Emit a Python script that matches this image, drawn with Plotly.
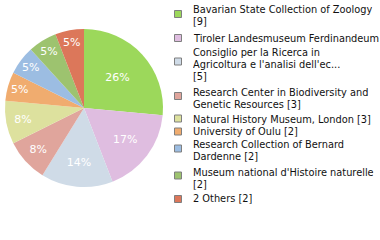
import plotly.graph_objects as go

labels = [
    "Bavarian State Collection of Zoology",
    "Tiroler Landesmuseum Ferdinandeum",
    "Consiglio per la Ricerca in Agricoltura e l'analisi dell'ec...",
    "Research Center in Biodiversity and Genetic Resources",
    "Natural History Museum, London",
    "University of Oulu",
    "Research Collection of Bernard Dardenne",
    "Museum national d'Histoire naturelle",
    "2 Others",
]
legend_lines = [
    ["Bavarian State Collection of Zoology", "[9]"],
    ["Tiroler Landesmuseum Ferdinandeum [6]"],
    ["Consiglio per la Ricerca in", "Agricoltura e l'analisi dell'ec...", "[5]"],
    ["Research Center in Biodiversity and", "Genetic Resources [3]"],
    ["Natural History Museum, London [3]"],
    ["University of Oulu [2]"],
    ["Research Collection of Bernard", "Dardenne [2]"],
    ["Museum national d'Histoire naturelle", "[2]"],
    ["2 Others [2]"],
]
values = [9, 6, 5, 3, 3, 2, 2, 2, 2]
colors = ["#9cd85b", "#dfbde0", "#cfdbe7", "#e0a59c", "#dde19e",
          "#f0ac6f", "#9cbde2", "#9dc36f", "#dc775a"]
legend_y_px = [15.5, 38, 64.5, 98, 119, 131.5, 150, 178, 198]
legend_sq_y = [14, 38, 61.5, 96, 118.5, 131.5, 148.5, 175.5, 199]

total = sum(values)
texts = [f"{int(v * 100 // total)}%" for v in values]

W, H = 380, 240
fig = go.Figure(go.Pie(
    labels=labels, values=values, text=texts, textinfo="text",
    textposition="inside", insidetextorientation="horizontal",
    sort=False, direction="clockwise", rotation=0,
    marker=dict(colors=colors, line=dict(width=0)),
    textfont=dict(family="DejaVu Sans", size=11, color="white"),
    domain=dict(x=[5 / W, 163 / W], y=[1 - 187 / H, 1 - 29 / H]),
    showlegend=False, hoverinfo="label+value",
))

shapes = []
annotations = []
line_h = 12
for lines, col, yc, ys in zip(legend_lines, colors, legend_y_px, legend_sq_y):
    shapes.append(dict(type="rect", xref="paper", yref="paper",
                       x0=174.5 / W, x1=181.5 / W,
                       y0=1 - (ys + 3.5) / H, y1=1 - (ys - 3.5) / H,
                       fillcolor=col, line=dict(color="#7f7f7f", width=1)))
    n = len(lines)
    for i, t in enumerate(lines):
        y = yc + (i - (n - 1) / 2) * line_h
        annotations.append(dict(text=t, xref="paper", yref="paper",
                                x=192 / W, y=1 - y / H, xanchor="left", yanchor="middle",
                                showarrow=False, borderpad=0, height=11,
                                font=dict(family="DejaVu Sans Condensed, DejaVu Sans", size=10.9, color="#111111")))

fig.update_layout(width=W, height=H, margin=dict(l=0, r=0, t=0, b=0),
                  paper_bgcolor="white", plot_bgcolor="white",
                  shapes=shapes, annotations=annotations)
fig.write_html("out.html")
